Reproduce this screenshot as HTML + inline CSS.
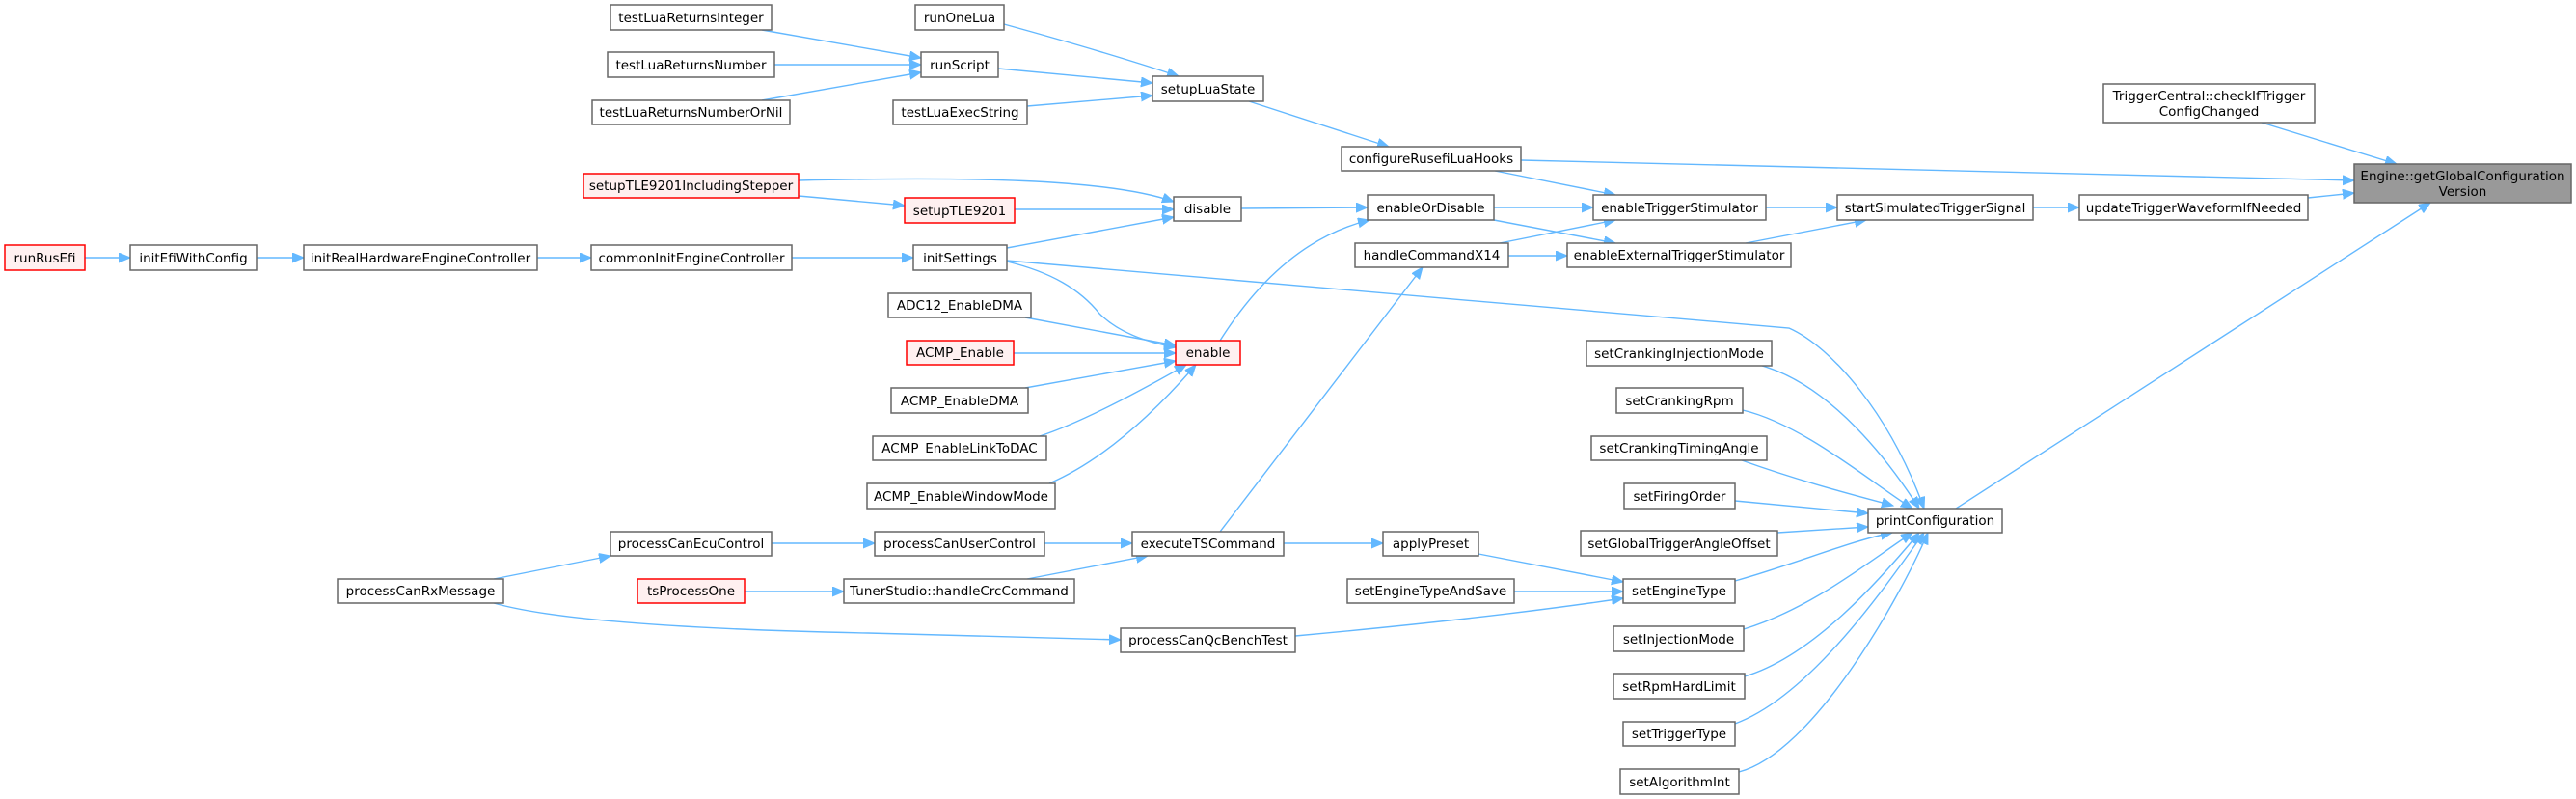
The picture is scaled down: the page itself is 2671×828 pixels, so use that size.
<!DOCTYPE html>
<html><head><meta charset="utf-8"><style>
html,body{margin:0;padding:0;background:#fff;}
svg{display:block;}
text{font-family:"DejaVu Sans","Liberation Sans",sans-serif;font-size:13.5px;fill:#000;}
.n{fill:#fff;stroke:#666;stroke-width:1.5;}
.r{fill:#fff0f0;stroke:#f00;stroke-width:1.5;}
.g{fill:#999;stroke:#666;stroke-width:1.5;}
.e{fill:none;stroke:#63b8ff;stroke-width:1.4;marker-end:url(#a);}
</style></head><body>
<svg width="2671" height="828" viewBox="0 0 2671 828" xmlns="http://www.w3.org/2000/svg">
<defs><marker id="a" markerUnits="userSpaceOnUse" markerWidth="14" markerHeight="12" refX="12" refY="5" orient="auto"><path d="M0,0 L12,5 L0,10 Z" fill="#63b8ff" stroke="#63b8ff"/></marker></defs>
<g>
<path class="e" d="M790,31 L955,60"/>
<path class="e" d="M803,67 L955,67"/>
<path class="e" d="M790,104 L955,75"/>
<path class="e" d="M1041,25 Q1150,55 1222,79"/>
<path class="e" d="M1035,71 L1195,86"/>
<path class="e" d="M1065,110 L1195,99"/>
<path class="e" d="M1295,105 L1440,152"/>
<path class="e" d="M1577,166 L2441,187"/>
<path class="e" d="M1550,177 L1675,202"/>
<path class="e" d="M828,187 C1000,183 1150,185 1217,209"/>
<path class="e" d="M828,203 L938,213"/>
<path class="e" d="M1052,217 L1217,217"/>
<path class="e" d="M1044,257 L1217,225"/>
<path class="e" d="M1044,271 C1090,282 1120,300 1140,325 C1160,345 1190,355 1219,360"/>
<path class="e" d="M1044,270 L1855,340 C1900,360 1960,430 1995,527"/>
<path class="e" d="M821,267 L947,267"/>
<path class="e" d="M88,267 L135,267"/>
<path class="e" d="M266,267 L315,267"/>
<path class="e" d="M557,267 L613,267"/>
<path class="e" d="M1063,329 L1219,358"/>
<path class="e" d="M1051,366 L1219,366"/>
<path class="e" d="M1063,402 L1219,374"/>
<path class="e" d="M1078,452 Q1130,435 1230,378"/>
<path class="e" d="M1088,501 Q1160,470 1240,378"/>
<path class="e" d="M1287,216 L1418,215"/>
<path class="e" d="M1265,353 Q1330,250 1420,228"/>
<path class="e" d="M1549,215 L1652,215"/>
<path class="e" d="M1549,228 L1675,252"/>
<path class="e" d="M1555,252 L1675,228"/>
<path class="e" d="M1564,265 L1625,265"/>
<path class="e" d="M1265,551 L1475,277"/>
<path class="e" d="M1331,563 L1434,563"/>
<path class="e" d="M1831,215 L1905,215"/>
<path class="e" d="M1810,252 L1935,228"/>
<path class="e" d="M2108,215 L2156,215"/>
<path class="e" d="M2393,205 L2441,200"/>
<path class="e" d="M2345,127 L2485,170"/>
<path class="e" d="M2028,527 L2520,210"/>
<path class="e" d="M1827,379 C1900,400 1960,480 1990,527"/>
<path class="e" d="M1807,425 C1870,440 1940,500 1983,527"/>
<path class="e" d="M1806,477 C1870,500 1930,515 1963,524"/>
<path class="e" d="M1799,519 L1937,532"/>
<path class="e" d="M1843,552 L1937,546"/>
<path class="e" d="M1799,602 C1860,585 1920,560 1962,552"/>
<path class="e" d="M1808,652 C1880,630 1940,580 1983,552"/>
<path class="e" d="M1809,701 C1880,680 1950,600 1990,552"/>
<path class="e" d="M1799,750 C1880,720 1960,600 1995,552"/>
<path class="e" d="M1803,800 C1880,780 1970,620 1999,552"/>
<path class="e" d="M1533,574 L1683,603"/>
<path class="e" d="M1570,613 L1683,613"/>
<path class="e" d="M1343,659 Q1550,640 1683,620"/>
<path class="e" d="M512,600 L633,576"/>
<path class="e" d="M512,625 Q600,650 900,656 L1162,663"/>
<path class="e" d="M800,563 L907,563"/>
<path class="e" d="M1083,563 L1174,563"/>
<path class="e" d="M772,613 L875,613"/>
<path class="e" d="M1065,600 L1190,576"/>
</g>
<g text-anchor="middle">
<rect class="n" x="633" y="5" width="167" height="26"/><text x="716.5" y="23">testLuaReturnsInteger</text>
<rect class="n" x="630" y="54" width="173" height="26"/><text x="716.5" y="72">testLuaReturnsNumber</text>
<rect class="n" x="614" y="104" width="205" height="25"/><text x="716.5" y="121">testLuaReturnsNumberOrNil</text>
<rect class="n" x="949" y="5" width="92" height="26"/><text x="995" y="23">runOneLua</text>
<rect class="n" x="955" y="54" width="80" height="26"/><text x="995" y="72">runScript</text>
<rect class="n" x="1195" y="79" width="115" height="26"/><text x="1252.5" y="97">setupLuaState</text>
<rect class="n" x="926" y="104" width="139" height="25"/><text x="995.5" y="121">testLuaExecString</text>
<rect class="n" x="1391" y="152" width="186" height="25"/><text x="1484" y="169">configureRusefiLuaHooks</text>
<rect class="n" x="2181" y="87" width="219" height="40"/><text x="2290.5" y="104">TriggerCentral::checkIfTrigger</text><text x="2290.5" y="120">ConfigChanged</text>
<rect class="g" x="2441" y="170" width="225" height="40"/><text x="2553.5" y="187">Engine::getGlobalConfiguration</text><text x="2553.5" y="203">Version</text>
<rect class="r" x="605" y="180" width="223" height="25"/><text x="716.5" y="197">setupTLE9201IncludingStepper</text>
<rect class="r" x="938" y="205" width="114" height="26"/><text x="995" y="223">setupTLE9201</text>
<rect class="n" x="1217" y="204" width="70" height="25"/><text x="1252" y="221">disable</text>
<rect class="n" x="1418" y="202" width="131" height="26"/><text x="1483.5" y="220">enableOrDisable</text>
<rect class="n" x="1652" y="202" width="179" height="26"/><text x="1741.5" y="220">enableTriggerStimulator</text>
<rect class="n" x="1905" y="202" width="203" height="26"/><text x="2006.5" y="220">startSimulatedTriggerSignal</text>
<rect class="n" x="2156" y="202" width="237" height="26"/><text x="2274.5" y="220">updateTriggerWaveformIfNeeded</text>
<rect class="r" x="5" y="254" width="83" height="26"/><text x="46.5" y="272">runRusEfi</text>
<rect class="n" x="135" y="254" width="131" height="26"/><text x="200.5" y="272">initEfiWithConfig</text>
<rect class="n" x="315" y="254" width="242" height="26"/><text x="436" y="272">initRealHardwareEngineController</text>
<rect class="n" x="613" y="254" width="208" height="26"/><text x="717" y="272">commonInitEngineController</text>
<rect class="n" x="947" y="254" width="97" height="26"/><text x="995.5" y="272">initSettings</text>
<rect class="n" x="1405" y="252" width="159" height="25"/><text x="1484.5" y="269">handleCommandX14</text>
<rect class="n" x="1625" y="252" width="232" height="25"/><text x="1741" y="269">enableExternalTriggerStimulator</text>
<rect class="n" x="921" y="304" width="148" height="25"/><text x="995" y="321">ADC12_EnableDMA</text>
<rect class="r" x="940" y="353" width="111" height="25"/><text x="995.5" y="370">ACMP_Enable</text>
<rect class="r" x="1219" y="353" width="67" height="25"/><text x="1252.5" y="370">enable</text>
<rect class="n" x="1645" y="353" width="192" height="26"/><text x="1741" y="371">setCrankingInjectionMode</text>
<rect class="n" x="924" y="402" width="142" height="26"/><text x="995" y="420">ACMP_EnableDMA</text>
<rect class="n" x="1676" y="402" width="131" height="26"/><text x="1741.5" y="420">setCrankingRpm</text>
<rect class="n" x="905" y="452" width="180" height="25"/><text x="995" y="469">ACMP_EnableLinkToDAC</text>
<rect class="n" x="1650" y="452" width="182" height="25"/><text x="1741" y="469">setCrankingTimingAngle</text>
<rect class="n" x="899" y="501" width="195" height="26"/><text x="996.5" y="519">ACMP_EnableWindowMode</text>
<rect class="n" x="1684" y="501" width="115" height="26"/><text x="1741.5" y="519">setFiringOrder</text>
<rect class="n" x="1937" y="527" width="139" height="25"/><text x="2006.5" y="544">printConfiguration</text>
<rect class="n" x="633" y="551" width="167" height="25"/><text x="716.5" y="568">processCanEcuControl</text>
<rect class="n" x="907" y="551" width="176" height="25"/><text x="995" y="568">processCanUserControl</text>
<rect class="n" x="1174" y="551" width="157" height="25"/><text x="1252.5" y="568">executeTSCommand</text>
<rect class="n" x="1434" y="551" width="99" height="25"/><text x="1483.5" y="568">applyPreset</text>
<rect class="n" x="1639" y="550" width="204" height="26"/><text x="1741" y="568">setGlobalTriggerAngleOffset</text>
<rect class="n" x="350" y="600" width="172" height="25"/><text x="436" y="617">processCanRxMessage</text>
<rect class="r" x="661" y="600" width="111" height="25"/><text x="716.5" y="617">tsProcessOne</text>
<rect class="n" x="875" y="600" width="239" height="25"/><text x="994.5" y="617">TunerStudio::handleCrcCommand</text>
<rect class="n" x="1397" y="600" width="173" height="25"/><text x="1483.5" y="617">setEngineTypeAndSave</text>
<rect class="n" x="1683" y="600" width="116" height="25"/><text x="1741" y="617">setEngineType</text>
<rect class="n" x="1162" y="651" width="181" height="25"/><text x="1252.5" y="668">processCanQcBenchTest</text>
<rect class="n" x="1673" y="649" width="135" height="26"/><text x="1740.5" y="667">setInjectionMode</text>
<rect class="n" x="1673" y="698" width="136" height="26"/><text x="1741" y="716">setRpmHardLimit</text>
<rect class="n" x="1683" y="748" width="116" height="25"/><text x="1741" y="765">setTriggerType</text>
<rect class="n" x="1680" y="797" width="123" height="26"/><text x="1741.5" y="815">setAlgorithmInt</text>
</g>
</svg>
</body></html>
